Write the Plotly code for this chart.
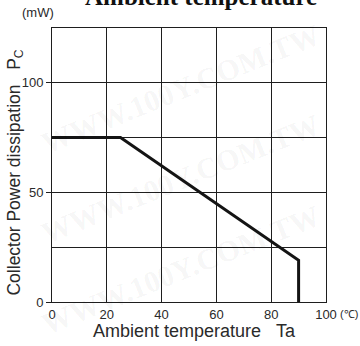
import plotly.graph_objects as go

# Derating curve: collector power dissipation vs ambient temperature
temp_c = [0, 25, 90, 90]
power_mw = [75, 75, 19, 0]

x_ticks = [0, 20, 40, 60, 80, 100]
x_labels = ["0", "20", "40", "60", "80", "100"]
y_ticks = [0, 50, 100]
y_labels = ["0", "50", "100"]

ink = "#2a2a2a"
grid = "#1e1e1e"
sans = "Liberation Sans, Arial, sans-serif"
serif = "Liberation Serif, Times New Roman, serif"

fig = go.Figure()
fig.add_trace(go.Scatter(
    x=temp_c, y=power_mw, mode="lines",
    line=dict(color="#141414", width=3),
    hoverinfo="skip", showlegend=False,
))

fig.update_xaxes(
    range=[0, 100], tickvals=x_ticks, ticktext=x_labels,
    showgrid=True, gridcolor=grid, gridwidth=1,
    showline=True, linecolor=grid, linewidth=1, mirror=True,
    ticks="", zeroline=False,
    tickfont=dict(family=sans, size=13, color=ink),
)
fig.update_yaxes(
    range=[0, 125], tickvals=y_ticks, ticktext=y_labels,
    showgrid=True, gridcolor=grid, gridwidth=1,
    minor=dict(dtick=25, showgrid=True, gridcolor=grid, gridwidth=1, ticks=""),
    showline=True, linecolor=grid, linewidth=1, mirror=True,
    ticks="outside", ticklen=5, tickcolor=grid, zeroline=False,
    tickfont=dict(family=sans, size=13, color=ink),
)

annotations = [
    dict(text="<b>Ambient temperature</b>", x=0.544, y=1, xref="paper", yref="paper",
         xanchor="center", yanchor="bottom", yshift=16, showarrow=False,
         font=dict(family=serif, size=25, color="#111111")),
    dict(text="(mW)", x=-0.051, y=1, xref="paper", yref="paper",
         xanchor="center", yanchor="bottom", yshift=6, showarrow=False,
         font=dict(family=sans, size=13, color=ink)),
    dict(text="(\u2103)", x=1.0, y=0, xref="paper", yref="paper",
         xanchor="left", yanchor="top", xshift=12, yshift=-4, showarrow=False,
         font=dict(family=sans, size=11, color=ink)),
    dict(text="Ambient temperature\u00a0\u00a0\u00a0Ta", x=0.52, y=-0.106,
         xref="paper", yref="paper", xanchor="center", yanchor="middle",
         showarrow=False, font=dict(family=sans, size=18, color=ink)),
    dict(text="Collector Power dissipation\u00a0\u00a0\u00a0P<sub>C</sub>", x=-0.135, y=0.4726,
         xref="paper", yref="paper", xanchor="center", yanchor="middle",
         textangle=-90, showarrow=False, font=dict(family=sans, size=17.5, color=ink)),
]

# faint diagonal site watermark
mark = "WWW.100Y.COM.TW"
for mx, my in [(0.47, 0.78), (0.47, 0.45), (0.47, 0.12)]:
    annotations.append(dict(
        text="<b>" + mark + "</b>", x=mx, y=my, xref="paper", yref="paper",
        xanchor="center", yanchor="middle", textangle=-22, showarrow=False,
        font=dict(family=serif, size=30, color="rgba(0,0,0,0.05)"),
    ))

fig.update_layout(
    width=360, height=346,
    margin=dict(l=52, r=34, t=28, b=44),
    paper_bgcolor="white", plot_bgcolor="white",
    annotations=annotations,
)

fig.write_html("out.html")
